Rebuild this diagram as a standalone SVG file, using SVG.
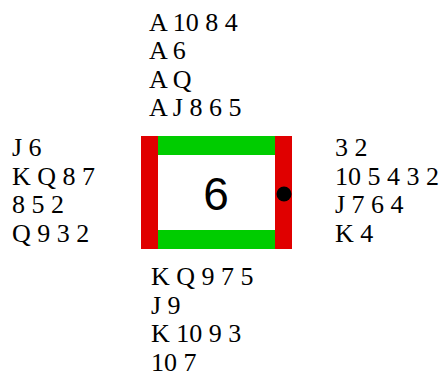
<svg xmlns="http://www.w3.org/2000/svg" width="441" height="374" viewBox="0 0 441 374">
<style>
.red{fill:#e00000}
.grn{fill:#00cc00}
</style>
<rect width="441" height="374" fill="#fff"/>
<g id="north" font-family="Liberation Serif" font-size="26" fill="#000">
<text x="149" y="30.5">A 10 8 4</text>
<text x="149" y="59">A 6</text>
<text x="149" y="87.5">A Q</text>
<text x="149" y="116">A J 8 6 5</text>
</g>
<g id="west" font-family="Liberation Serif" font-size="26" fill="#000">
<text x="12" y="156">J 6</text>
<text x="12" y="184.5">K Q 8 7</text>
<text x="12" y="213">8 5 2</text>
<text x="12" y="241.5">Q 9 3 2</text>
</g>
<g id="east" font-family="Liberation Serif" font-size="26" fill="#000">
<text x="335" y="156">3 2</text>
<text x="335" y="184.5">10 5 4 3 2</text>
<text x="335" y="213">J 7 6 4</text>
<text x="335" y="241.5">K 4</text>
</g>
<g id="south" font-family="Liberation Serif" font-size="26" fill="#000">
<text x="151" y="285">K Q 9 7 5</text>
<text x="151" y="313.5">J 9</text>
<text x="151" y="342">K 10 9 3</text>
<text x="151" y="370.5">10 7</text>
</g>
<g id="table">
<rect x="158" y="136" width="117" height="113" fill="#fff"/>
<rect class="grn" x="158" y="136" width="117" height="19"/>
<rect class="grn" x="158" y="230" width="117" height="19"/>
<rect class="red" x="141" y="136" width="17" height="113"/>
<rect class="red" x="275" y="136" width="17" height="113"/>
<circle cx="284" cy="194" r="7.5" fill="#000"/>
<text x="216" y="210" text-anchor="middle" font-family="Liberation Sans" font-size="46">6</text>
</g>
</svg>
